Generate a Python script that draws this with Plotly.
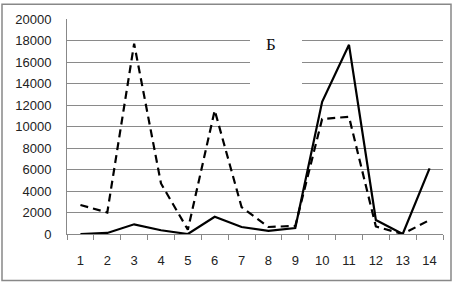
import plotly.graph_objects as go

categories = [str(i) for i in range(1, 15)]
series_dashed = [2700, 2000, 17700, 4700, 400, 11500, 2500, 650, 750, 10700, 10900, 700, 0, 1300]
series_solid = [0, 100, 900, 350, 0, 1600, 650, 300, 550, 12300, 17600, 1300, 0, 6100]
y_ticks = [0, 2000, 4000, 6000, 8000, 10000, 12000, 14000, 16000, 18000, 20000]
title_text = "Б"

fig = go.Figure()
fig.add_trace(go.Scatter(x=categories, y=series_dashed, mode="lines",
                         line=dict(color="black", width=2.2, dash="8px,5px"), showlegend=False))
fig.add_trace(go.Scatter(x=categories, y=series_solid, mode="lines",
                         line=dict(color="black", width=2.2), showlegend=False))

W, H = 457, 283
L, R, T, B = 67, 443, 17, 234
pw, ph = R - L, B - T

def px(x):
    return (x - L) / pw

def py(y):
    return (B - y) / ph

fig.update_layout(
    width=W, height=H,
    margin=dict(l=L, r=W - R, t=T, b=H - B),
    paper_bgcolor="white", plot_bgcolor="white",
    font=dict(family="Liberation Sans, Arial, sans-serif", size=13, color="#222"),
    xaxis=dict(type="category", range=[-0.5, 13.5], showgrid=False,
               showline=True, linecolor="#888", linewidth=1,
               ticks="outside", tickson="boundaries", ticklen=5, tickcolor="#888",
               ticklabelstandoff=14, tickfont=dict(size=13), fixedrange=True),
    yaxis=dict(range=[0, 20000], tickvals=y_ticks, tickformat="d", showgrid=True,
               gridcolor="#8a8a8a", gridwidth=1, showline=True, linecolor="#888", linewidth=1,
               ticks="", ticklabelstandoff=12, zeroline=False,
               tickfont=dict(size=13), fixedrange=True),
    shapes=[
        dict(type="rect", xref="paper", yref="paper",
             x0=px(2), x1=px(451), y0=py(281), y1=py(2),
             line=dict(color="#888", width=1.5), fillcolor="rgba(0,0,0,0)", layer="above"),
        dict(type="rect", xref="paper", yref="paper",
             x0=px(250), x1=px(302), y0=py(92), y1=py(30),
             line=dict(width=0), fillcolor="white", layer="above"),
    ],
    annotations=[
        dict(text=title_text, xref="paper", yref="paper", x=px(270.5), y=py(43),
             showarrow=False, xanchor="center", yanchor="middle",
             font=dict(family="Liberation Serif, Times New Roman, serif", size=17, color="#111")),
    ],
)

fig.write_html("out.html", config={"displayModeBar": False},
               post_script="document.body.style.margin='0';")
